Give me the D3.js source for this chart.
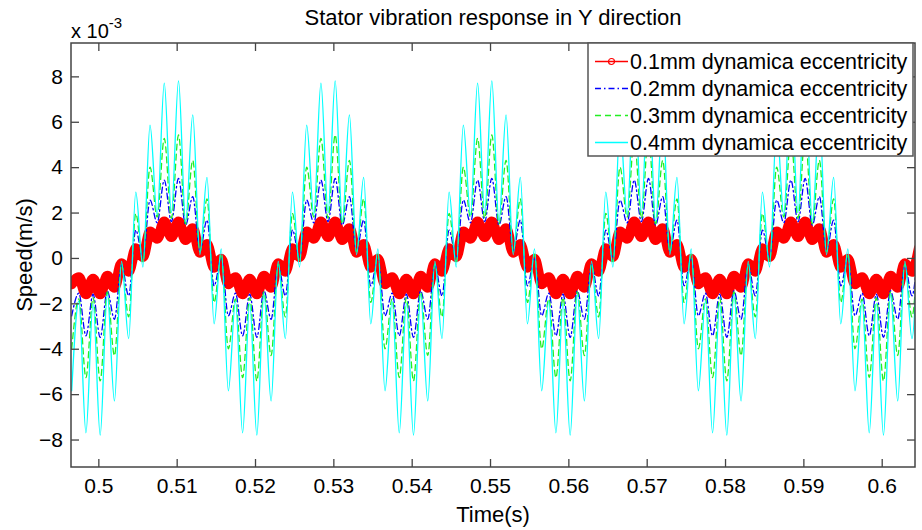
<!DOCTYPE html>
<html>
<head>
<meta charset="utf-8">
<script src="https://cdn.jsdelivr.net/npm/d3@7"></script>
<style>
    body { margin: 0; background: #fff; }
    text { font-family: Arial, "Liberation Sans", sans-serif; fill: #000; }
</style>
</head>
<body>
<div id="box-div"></div>
<script>
// sampling grid of the curves (s)
const tStart = 0.4966
const tStep = 0.000909

const xTicks = [0.5, 0.51, 0.52, 0.53, 0.54, 0.55, 0.56, 0.57, 0.58, 0.59, 0.6]
const yTicks = [-8, -6, -4, -2, 0, 2, 4, 6, 8]
const names = [
    '0.1mm dynamica eccentricity',
    '0.2mm dynamica eccentricity',
    '0.3mm dynamica eccentricity',
    '0.4mm dynamica eccentricity'
]

// speed values, x 10^-3 m/s
const ecc01 = [
    -1.15, -0.86, -1.59, -0.93, -1.59, -0.8,
    -1.3, -0.24, -0.6, 0.42, 0.05, 1.15, 0.86, 1.59, 0.93, 1.59, 0.8, 1.3, 0.24, 0.6, -0.42, -0.05, -1.15, -0.86, -1.59, -0.93, -1.59, -0.8,
    -1.3, -0.24, -0.6, 0.42, 0.05, 1.15, 0.86, 1.59, 0.93, 1.59, 0.8, 1.3, 0.24, 0.6, -0.42, -0.05, -1.15, -0.86, -1.59, -0.93, -1.59, -0.8,
    -1.3, -0.24, -0.6, 0.42, 0.05, 1.15, 0.86, 1.59, 0.93, 1.59, 0.8, 1.3, 0.24, 0.6, -0.42, -0.05, -1.15, -0.86, -1.59, -0.93, -1.59, -0.8,
    -1.3, -0.24, -0.6, 0.42, 0.05, 1.15, 0.86, 1.59, 0.93, 1.59, 0.8, 1.3, 0.24, 0.6, -0.42, -0.05, -1.15, -0.86, -1.59, -0.93, -1.59, -0.8,
    -1.3, -0.24, -0.6, 0.42, 0.05, 1.15, 0.86, 1.59, 0.93, 1.59, 0.8, 1.3, 0.24, 0.6, -0.42, -0.05, -1.15, -0.86, -1.59, -0.93, -1.59, -0.8,
    -1.3, -0.24, -0.6, 0.42
]
const ecc02 = [
    -2.55, -1.55, -3.43, -1.6, -3.5, -1.45,
    -2.7, -0.3, -1.67, 1.23, 0.0, 2.55, 1.55, 3.43, 1.6, 3.5, 1.45, 2.7, 0.3, 1.67, -1.23, 0.0, -2.55, -1.55, -3.43, -1.6, -3.5, -1.45,
    -2.7, -0.3, -1.67, 1.23, 0.0, 2.55, 1.55, 3.43, 1.6, 3.5, 1.45, 2.7, 0.3, 1.67, -1.23, 0.0, -2.55, -1.55, -3.43, -1.6, -3.5, -1.45,
    -2.7, -0.3, -1.67, 1.23, 0.0, 2.55, 1.55, 3.43, 1.6, 3.5, 1.45, 2.7, 0.3, 1.67, -1.23, 0.0, -2.55, -1.55, -3.43, -1.6, -3.5, -1.45,
    -2.7, -0.3, -1.67, 1.23, 0.0, 2.55, 1.55, 3.43, 1.6, 3.5, 1.45, 2.7, 0.3, 1.67, -1.23, 0.0, -2.55, -1.55, -3.43, -1.6, -3.5, -1.45,
    -2.7, -0.3, -1.67, 1.23, 0.0, 2.55, 1.55, 3.43, 1.6, 3.5, 1.45, 2.7, 0.3, 1.67, -1.23, 0.0, -2.55, -1.55, -3.43, -1.6, -3.5, -1.45,
    -2.7, -0.3, -1.67, 1.23
]
const ecc03 = [
    -4.0, -1.8, -5.27, -1.75, -5.42, -1.5,
    -4.3, -0.27, -2.6, 1.96, -0.17, 4.0, 1.8, 5.27, 1.75, 5.42, 1.5, 4.3, 0.27, 2.6, -1.96, 0.17, -4.0, -1.8, -5.27, -1.75, -5.42, -1.5,
    -4.3, -0.27, -2.6, 1.96, -0.17, 4.0, 1.8, 5.27, 1.75, 5.42, 1.5, 4.3, 0.27, 2.6, -1.96, 0.17, -4.0, -1.8, -5.27, -1.75, -5.42, -1.5,
    -4.3, -0.27, -2.6, 1.96, -0.17, 4.0, 1.8, 5.27, 1.75, 5.42, 1.5, 4.3, 0.27, 2.6, -1.96, 0.17, -4.0, -1.8, -5.27, -1.75, -5.42, -1.5,
    -4.3, -0.27, -2.6, 1.96, -0.17, 4.0, 1.8, 5.27, 1.75, 5.42, 1.5, 4.3, 0.27, 2.6, -1.96, 0.17, -4.0, -1.8, -5.27, -1.75, -5.42, -1.5,
    -4.3, -0.27, -2.6, 1.96, -0.17, 4.0, 1.8, 5.27, 1.75, 5.42, 1.5, 4.3, 0.27, 2.6, -1.96, 0.17, -4.0, -1.8, -5.27, -1.75, -5.42, -1.5,
    -4.3, -0.27, -2.6, 1.96
]
const ecc04 = [
    -5.85, -1.9, -7.7, -2.0, -7.8, -1.6,
    -6.3, -0.15, -3.55, 2.9, -0.4, 5.85, 1.9, 7.7, 2.0, 7.8, 1.6, 6.3, 0.15, 3.55, -2.9, 0.4, -5.85, -1.9, -7.7, -2.0, -7.8, -1.6,
    -6.3, -0.15, -3.55, 2.9, -0.4, 5.85, 1.9, 7.7, 2.0, 7.8, 1.6, 6.3, 0.15, 3.55, -2.9, 0.4, -5.85, -1.9, -7.7, -2.0, -7.8, -1.6,
    -6.3, -0.15, -3.55, 2.9, -0.4, 5.85, 1.9, 7.7, 2.0, 7.8, 1.6, 6.3, 0.15, 3.55, -2.9, 0.4, -5.85, -1.9, -7.7, -2.0, -7.8, -1.6,
    -6.3, -0.15, -3.55, 2.9, -0.4, 5.85, 1.9, 7.7, 2.0, 7.8, 1.6, 6.3, 0.15, 3.55, -2.9, 0.4, -5.85, -1.9, -7.7, -2.0, -7.8, -1.6,
    -6.3, -0.15, -3.55, 2.9, -0.4, 5.85, 1.9, 7.7, 2.0, 7.8, 1.6, 6.3, 0.15, 3.55, -2.9, 0.4, -5.85, -1.9, -7.7, -2.0, -7.8, -1.6,
    -6.3, -0.15, -3.55, 2.9
]

let dms = {
    width: 922,
    height: 530,
    margin: { top: 43, right: 7, bottom: 63, left: 71 }
}
dms.chartWidth = dms.width - dms.margin.left - dms.margin.right
dms.chartHeight = dms.height - dms.margin.top - dms.margin.bottom

const styles = [
    { color: '#ff0000', width: 10.5, dash: null },
    { color: '#0000ff', width: 1.3, dash: '6,3,1.5,3' },
    { color: '#22ee22', width: 1.3, dash: '6,4' },
    { color: '#00ffff', width: 1.3, dash: null }
]

const box = d3.select('#box-div').append('svg')
    .attr('width', dms.width)
    .attr('height', dms.height)

const content = box.append('g')
    .attr('transform', `translate(${dms.margin.left}, ${dms.margin.top})`)

const xScale = d3.scaleLinear()
    .domain([0.49651, 0.60425])
    .range([0, dms.chartWidth])

const yScale = d3.scaleLinear()
    .domain([-9.21, 9.47])
    .range([dms.chartHeight, 0])

content.append('clipPath')
    .attr('id', 'clip')
    .append('rect')
    .attr('width', dms.chartWidth)
    .attr('height', dms.chartHeight)

const series = [ecc01, ecc02, ecc03, ecc04].map(vals =>
    vals.map((v, i) => ({ t: tStart + i * tStep, v: v }))
)

const lineGen = d3.line()
    .x(d => xScale(d.t))
    .y(d => yScale(d.v))
    .curve(d3.curveMonotoneX)

const lineArea = content.append('g').attr('clip-path', 'url(#clip)')
series.forEach((s, i) => {
    lineArea.append('path')
        .datum(s)
        .attr('d', lineGen)
        .attr('fill', 'none')
        .attr('stroke', styles[i].color)
        .attr('stroke-width', styles[i].width)
        .attr('stroke-linejoin', 'round')
        .attr('stroke-linecap', 'round')
        .attr('stroke-dasharray', styles[i].dash)
})

// axes, ticks pointing inward
const xAxis = content.append('g')
    .attr('transform', `translate(0, ${dms.chartHeight})`)
    .call(d3.axisBottom(xScale).tickValues(xTicks).tickSize(-8).tickPadding(11).tickFormat(d3.format('')))
const xAxisTop = content.append('g')
    .call(d3.axisTop(xScale).tickValues(xTicks).tickSize(-8).tickFormat(''))
const yAxis = content.append('g')
    .call(d3.axisLeft(yScale).tickValues(yTicks).tickSize(-8).tickPadding(8).tickFormat(d3.format('')))
const yAxisRight = content.append('g')
    .attr('transform', `translate(${dms.chartWidth}, 0)`)
    .call(d3.axisRight(yScale).tickValues(yTicks).tickSize(-8).tickFormat(''))

content.selectAll('.domain').remove()
content.selectAll('.tick line').attr('stroke', '#444').attr('stroke-width', 1.3)
content.selectAll('.tick text')
    .style('font-size', '21px')
    .style('font-family', 'Arial, "Liberation Sans", sans-serif')
    .attr('fill', '#000')

content.append('rect')
    .attr('width', dms.chartWidth)
    .attr('height', dms.chartHeight)
    .attr('fill', 'none')
    .attr('stroke', '#444')
    .attr('stroke-width', 1.5)

// legend
const legend = content.append('g')
    .attr('transform', `translate(${517}, 0)`)
legend.append('rect')
    .attr('width', 325)
    .attr('height', 113)
    .attr('fill', '#fff')
    .attr('stroke', '#555')
    .attr('stroke-width', 1.5)

names.forEach((name, i) => {
    const row = legend.append('g')
        .attr('transform', `translate(0, ${18.5 + i * 27})`)
    row.append('line')
        .attr('x1', 7)
        .attr('x2', 40)
        .attr('stroke', styles[i].color)
        .attr('stroke-width', 1.5)
        .attr('stroke-dasharray', styles[i].dash)
    if (i === 0) {
        row.append('circle')
            .attr('cx', 23.5)
            .attr('r', 3)
            .attr('fill', 'none')
            .attr('stroke', styles[i].color)
            .attr('stroke-width', 1.2)
    }
    row.append('text')
        .attr('x', 42)
        .attr('y', 7.5)
        .style('font-size', '21.5px')
        .text(name)
})

// title and labels
box.append('text')
    .attr('x', dms.margin.left + dms.chartWidth / 2)
    .attr('y', 25)
    .attr('text-anchor', 'middle')
    .style('font-size', '22px')
    .text('Stator vibration response in Y direction')

box.append('text')
    .attr('x', dms.margin.left + dms.chartWidth / 2)
    .attr('y', 522)
    .attr('text-anchor', 'middle')
    .style('font-size', '22px')
    .text('Time(s)')

box.append('text')
    .attr('transform', `translate(32, ${dms.margin.top + dms.chartHeight / 2}) rotate(-90)`)
    .attr('text-anchor', 'middle')
    .style('font-size', '22px')
    .text('Speed(m/s)')

const expo = box.append('text')
    .attr('x', 71)
    .attr('y', 38)
    .style('font-size', '20px')
expo.append('tspan').text('x 10')
expo.append('tspan')
    .attr('dy', -10)
    .style('font-size', '15px')
    .text('-3')
</script>
</body>
</html>
